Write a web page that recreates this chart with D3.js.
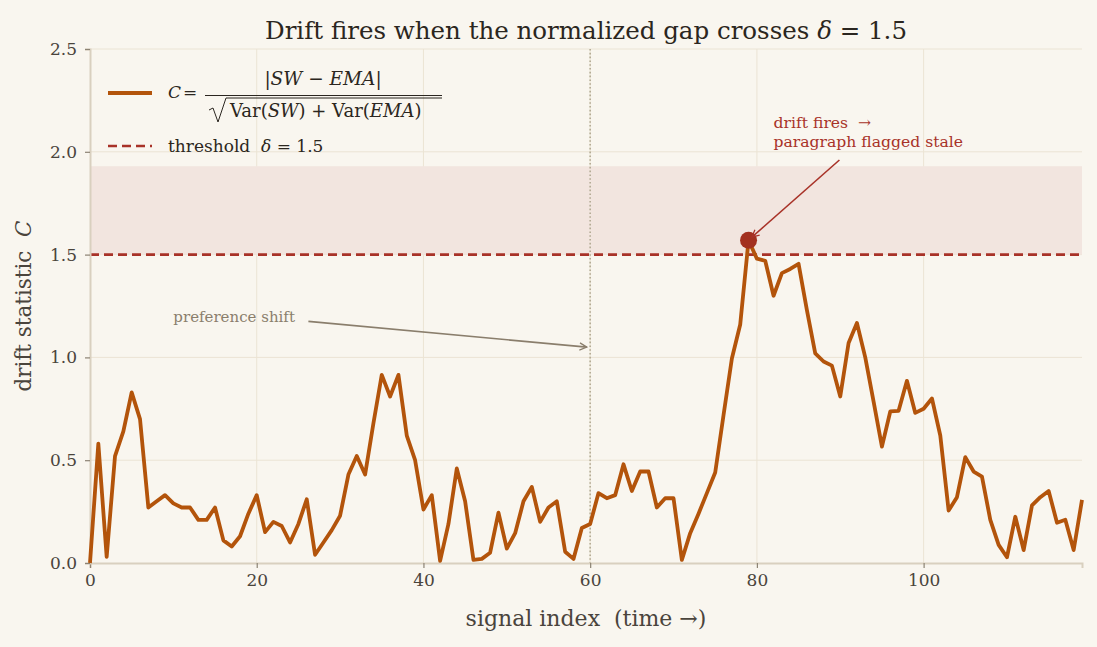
<!DOCTYPE html>
<html>
<head>
<meta charset="utf-8">
<script src="https://cdn.jsdelivr.net/npm/d3@7"></script>
<style>
  body { margin: 0; background: #f9f6ef; }
  svg { display: block; font-family: "DejaVu Serif", serif; }
  svg text { white-space: pre; }
</style>
</head>
<body>
<div id="chart"></div>
<script>
// drift statistic C, one value per signal index 0..119
const driftValues = [
  0.00, 0.58, 0.03, 0.52, 0.64, 0.83, 0.70, 0.27, 0.30, 0.33,
  0.29, 0.27, 0.27, 0.21, 0.21, 0.27, 0.11, 0.08, 0.13, 0.24,
  0.33, 0.15, 0.20, 0.18, 0.10, 0.19, 0.31, 0.04, 0.10, 0.16,
  0.23, 0.43, 0.52, 0.43, 0.68, 0.915, 0.81, 0.915, 0.62, 0.50,
  0.26, 0.33, 0.01, 0.19, 0.46, 0.30, 0.015, 0.02, 0.05, 0.245,
  0.07, 0.145, 0.30, 0.37, 0.20, 0.27, 0.30, 0.055, 0.02, 0.17,
  0.19, 0.34, 0.315, 0.33, 0.48, 0.35, 0.445, 0.445, 0.27, 0.315,
  0.315, 0.015, 0.145, 0.24, 0.34, 0.44, 0.72, 0.995, 1.16, 1.57,
  1.48, 1.47, 1.30, 1.41, 1.43, 1.455, 1.23, 1.02, 0.98, 0.96,
  0.81, 1.07, 1.167, 1.00, 0.785, 0.566, 0.737, 0.74, 0.886, 0.73,
  0.75, 0.80, 0.62, 0.255, 0.32, 0.515, 0.445, 0.42, 0.21, 0.088,
  0.028, 0.225, 0.063, 0.28, 0.32, 0.35, 0.196, 0.21, 0.063, 0.307
];
const xTicks = [0, 20, 40, 60, 80, 100];
const yTicks = [0.0, 0.5, 1.0, 1.5, 2.0, 2.5];
const threshold = 1.5;
const bandTop = 1.93;
const shiftIndex = 60;
const fireIndex = 79;

const W = 1097, H = 647;
const margin = { top: 49, right: 15, bottom: 84, left: 90 };
const width = W - margin.left - margin.right;
const height = H - margin.top - margin.bottom;

const svg = d3.select("#chart").append("svg")
  .attr("width", W).attr("height", H);

svg.append("rect").attr("width", W).attr("height", H).attr("fill", "#f9f6ef");

const defs = svg.append("defs");
function arrowHead(id, color) {
  defs.append("marker")
    .attr("id", id).attr("viewBox", "0 0 10 10")
    .attr("refX", 9).attr("refY", 5)
    .attr("markerWidth", 9).attr("markerHeight", 9)
    .attr("markerUnits", "userSpaceOnUse")
    .attr("orient", "auto")
    .append("path").attr("d", "M1,1 L9,5 L1,9")
    .attr("fill", "none").attr("stroke", color).attr("stroke-width", 1.4);
}
arrowHead("arrGray", "#8a7e6c");
arrowHead("arrRed", "#a83228");

const g = svg.append("g").attr("transform", `translate(${margin.left},${margin.top})`);

const x = d3.scaleLinear().domain([0, driftValues.length - 1]).range([0, width]);
const y = d3.scaleLinear().domain([0, 2.5]).range([height, 0]);

// grid
g.append("g").selectAll("line").data(xTicks.slice(1)).enter().append("line")
  .attr("x1", d => x(d)).attr("x2", d => x(d))
  .attr("y1", 0).attr("y2", height)
  .attr("stroke", "#ebe4d4").attr("stroke-width", 1);
g.append("g").selectAll("line").data(yTicks.slice(1)).enter().append("line")
  .attr("x1", 0).attr("x2", width)
  .attr("y1", d => y(d)).attr("y2", d => y(d))
  .attr("stroke", "#ebe4d4").attr("stroke-width", 1);

// shaded drift zone
g.append("rect")
  .attr("x", 0).attr("width", width)
  .attr("y", y(bandTop)).attr("height", y(threshold) - y(bandTop))
  .attr("fill", "#f2e5df");

// preference shift marker
g.append("line")
  .attr("x1", x(shiftIndex)).attr("x2", x(shiftIndex))
  .attr("y1", 0).attr("y2", height)
  .attr("stroke", "#b3aa94").attr("stroke-width", 1.6)
  .attr("stroke-dasharray", "1.6,2.2");

// threshold
g.append("line")
  .attr("x1", 0).attr("x2", width)
  .attr("y1", y(threshold)).attr("y2", y(threshold))
  .attr("stroke", "#a83228").attr("stroke-width", 2.6)
  .attr("stroke-dasharray", "9,5");

// axes
const xAxis = g.append("g").attr("transform", `translate(0,${height})`)
  .call(d3.axisBottom(x).tickValues(xTicks).tickFormat(d3.format("d")).tickSize(5).tickPadding(6));
const yAxis = g.append("g")
  .call(d3.axisLeft(y).tickValues(yTicks).tickFormat(d3.format(".1f")).tickSize(5).tickPadding(8));
[xAxis, yAxis].forEach(a => {
  a.select(".domain").attr("stroke", "#d9d0bf").attr("stroke-width", 2);
  a.selectAll(".tick line").attr("stroke", "#8c8373").attr("stroke-width", 1.2);
  a.selectAll(".tick text").attr("fill", "#4a443c").style("font-size", "17px")
    .style("font-family", "'DejaVu Serif', serif");
});

// drift line
const line = d3.line().x((d, i) => x(i)).y(d => y(d));
g.append("path").datum(driftValues)
  .attr("d", line)
  .attr("fill", "none").attr("stroke", "#b3540b")
  .attr("stroke-width", 3.8).attr("stroke-linejoin", "round");

// fire point
g.append("circle")
  .attr("cx", x(fireIndex)).attr("cy", y(driftValues[fireIndex]))
  .attr("r", 8.5).attr("fill", "#a3301f");

// annotations
g.append("text").attr("x", x(10)).attr("y", y(1.17))
  .attr("fill", "#8a7e6c").style("font-size", "15px").text("preference shift");
g.append("line")
  .attr("x1", x(26.2)).attr("y1", y(1.175))
  .attr("x2", x(59.6)).attr("y2", y(1.05))
  .attr("stroke", "#8a7e6c").attr("stroke-width", 1.6)
  .attr("marker-end", "url(#arrGray)");

const fireText = g.append("text").attr("fill", "#a83228").style("font-size", "15.6px");
fireText.append("tspan").attr("x", x(82)).attr("y", y(2.115)).text("drift fires  \u2192");
fireText.append("tspan").attr("x", x(82)).attr("y", y(2.025)).text("paragraph flagged stale");
g.append("line")
  .attr("x1", x(89.9)).attr("y1", y(1.96))
  .attr("x2", x(79.4)).attr("y2", y(1.585))
  .attr("stroke", "#a83228").attr("stroke-width", 1.6)
  .attr("marker-end", "url(#arrRed)");

// legend
const leg = svg.append("g").attr("transform", "translate(108,93)");
leg.append("line").attr("x1", 0).attr("x2", 44).attr("y1", 0).attr("y2", 0)
  .attr("stroke", "#b3540b").attr("stroke-width", 3.8);
const math = leg.append("g").attr("fill", "#2b2620").style("font-size", "17px");
math.append("text").attr("x", 60).attr("y", 5).style("font-style", "italic").text("C");
math.append("text").attr("x", 75).attr("y", 5).text("=");
math.append("text").attr("x", 215).attr("y", -8).attr("text-anchor", "middle").style("font-size", "18.5px")
  .html("|<tspan font-style='italic'>SW</tspan> \u2212 <tspan font-style='italic'>EMA</tspan>|");
math.append("line").attr("x1", 97).attr("x2", 334).attr("y1", 2.5).attr("y2", 2.5)
  .attr("stroke", "#2b2620").attr("stroke-width", 1);
math.append("path").attr("d", "M101,17 L105,15 L110,29 L118,5 L334,5")
  .attr("fill", "none").attr("stroke", "#2b2620").attr("stroke-width", 1);
math.append("text").attr("x", 122).attr("y", 24).style("font-size", "18px")
  .html("Var(<tspan font-style='italic'>SW</tspan>) + Var(<tspan font-style='italic'>EMA</tspan>)");

leg.append("line").attr("x1", 0).attr("x2", 44).attr("y1", 53).attr("y2", 53)
  .attr("stroke", "#a83228").attr("stroke-width", 2.6).attr("stroke-dasharray", "9,5");
leg.append("text").attr("x", 60).attr("y", 59).attr("fill", "#2b2620").style("font-size", "17px")
  .html("threshold  <tspan font-style='italic'>\u03b4</tspan> = 1.5");

// title and axis labels
svg.append("text").attr("x", margin.left + width / 2).attr("y", 39)
  .attr("text-anchor", "middle").attr("fill", "#2b2620").style("font-size", "24.5px")
  .html("Drift fires when the normalized gap crosses <tspan font-style='italic'>\u03b4</tspan> = 1.5");
svg.append("text").attr("x", margin.left + width / 2).attr("y", 626)
  .attr("text-anchor", "middle").attr("fill", "#4a443c").style("font-size", "22px")
  .text("signal index  (time \u2192)");
svg.append("text")
  .attr("transform", `translate(31,${margin.top + height / 2}) rotate(-90)`)
  .attr("text-anchor", "middle").attr("fill", "#4a443c").style("font-size", "21.5px")
  .html("drift statistic  <tspan font-style='italic'>C</tspan>");
</script>
</body>
</html>
